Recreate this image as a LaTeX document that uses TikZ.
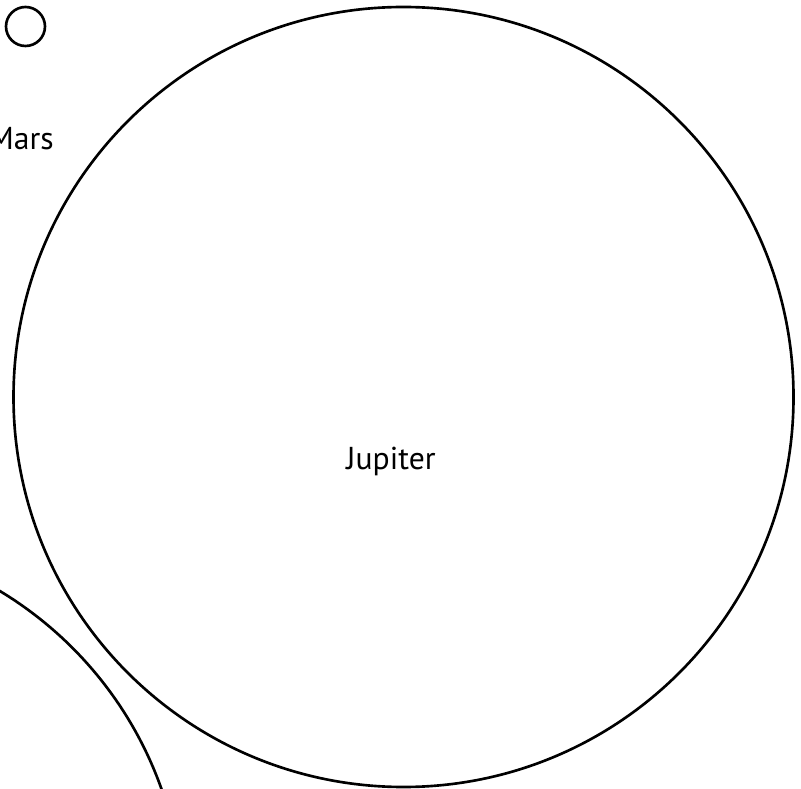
\documentclass[tikz,border=0pt]{standalone}
\usepackage{fontspec}
\setmainfont{PT Sans}
\usepackage{tikz}

\begin{document}
\begin{tikzpicture}[x=0.01cm, y=-0.01cm, line width=0.75pt]
  \useasboundingbox (0,0) rectangle (801,789);
  \clip (0,0) rectangle (801,789);
  % planets
  \draw (25.5,26.5) circle (19.5);
  \draw (403.5,397) circle (390);
  \draw (-195,915) circle (378);
  % labels
  \node[anchor=base east, inner sep=0pt, font=\fontsize{9}{10}\selectfont] (mars) at (55,150) {Mars};
  \node[anchor=base, inner sep=0pt, font=\fontsize{9}{10}\selectfont] (jupiter) at (391,469) {Jupiter};
\end{tikzpicture}
\end{document}
